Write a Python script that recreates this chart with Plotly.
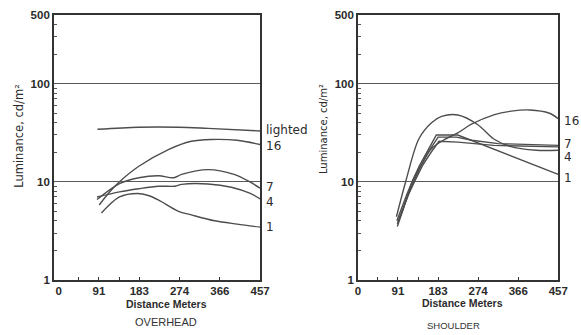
import math
import plotly.graph_objects as go

# ---- OVERHEAD lighting: luminance (cd/m^2) vs distance (m) ----
oh_lighted_x = [88, 181, 272, 339, 457]
oh_lighted_y = [34.3, 36, 36, 35, 33]
oh_16_x = [92, 116, 138, 182, 249, 301, 346, 405, 457]
oh_16_y = [5.8, 7.9, 10, 14.4, 21.3, 25.9, 27, 26.5, 24]
oh_7_x = [87, 138, 182, 227, 261, 279, 339, 398, 435, 457]
oh_7_y = [6.6, 9.6, 11.0, 11.5, 11.0, 11.9, 13.3, 11.9, 9.9, 8.6]
oh_4_x = [87, 138, 182, 227, 264, 279, 339, 392, 435, 457]
oh_4_y = [7.0, 7.9, 8.5, 9.0, 9.0, 9.4, 9.5, 8.8, 7.6, 6.7]
oh_1_x = [97, 138, 179, 205, 227, 272, 301, 354, 405, 457]
oh_1_y = [4.8, 7.0, 7.6, 7.2, 6.5, 5.0, 4.6, 4.0, 3.7, 3.45]

# ---- SHOULDER lighting ----
sh_16_x = [90, 105, 124, 145, 168, 198, 228, 258, 310, 350, 392, 437, 457]
sh_16_y = [3.5, 5.5, 10, 15, 21.8, 27, 31.5, 38.4, 48.2, 52.5, 54, 50, 44]
sh_7_x = [90, 102, 114, 127, 142, 162, 183, 225, 260, 320, 400, 457]
sh_7_y = [3.7, 5.2, 7.2, 10, 14, 20.5, 28.5, 28.5, 26.5, 24.5, 23.8, 23.5]
sh_4_x = [88, 109, 139, 168, 191, 228, 273, 310, 347, 407, 457]
sh_4_y = [4.4, 10, 27.3, 40, 46.4, 48, 38.4, 27.3, 23, 21, 21]
sh_1_x = [89, 100, 112, 125, 140, 160, 179, 228, 457]
sh_1_y = [4.0, 5.5, 7.5, 10.3, 14.5, 21, 30, 30, 11.9]
sh_lighted_x = [91, 103, 116, 130, 147, 167, 185, 228, 310, 457]
sh_lighted_y = [3.9, 5.4, 7.5, 10.2, 14.5, 20, 25.9, 25.4, 23.5, 22.7]

# axis ticks
x_label_vals = [0, 91.4, 182.9, 274.3, 365.8, 457.2]
x_label_text = ["0", "91", "183", "274", "366", "457"]
x_small_ticks = [45.7, 91.4, 137.2, 182.9, 274.3, 365.8]
y_label_vals = [1, 10, 100, 500]
y_label_text = ["1", "10", "100", "500"]
y_small_ticks = [2, 3, 4, 5, 6, 7, 8, 9, 20, 30, 40, 50, 60, 70, 80, 90, 200, 300, 400]

LINE = "#4d4d4d"
FRAME = "#333333"
TXT = "#2b2b2b"
Y_DOMAIN = [0.1522, 0.9716]
Y_RANGE = [0, math.log10(500)]
LEFT_X = dict(domain=[52 / 581, 263 / 581], range=[-11, 457.2])
RIGHT_X = dict(domain=[363 / 581, 568 / 581], range=[0, 457.2])

fig = go.Figure()


def add_curve(x, y, xa, ya, shape="spline"):
    fig.add_trace(go.Scatter(
        x=x, y=y, xaxis=xa, yaxis=ya, mode="lines",
        line=dict(color=LINE, width=1.4, shape=shape, smoothing=0.9),
        hoverinfo="skip", showlegend=False,
    ))


for xs, ys in [(oh_lighted_x, oh_lighted_y), (oh_16_x, oh_16_y), (oh_7_x, oh_7_y),
               (oh_4_x, oh_4_y), (oh_1_x, oh_1_y)]:
    add_curve(xs, ys, "x", "y")

add_curve(sh_16_x, sh_16_y, "x2", "y2")
add_curve(sh_4_x, sh_4_y, "x2", "y2")
add_curve(sh_7_x, sh_7_y, "x2", "y2", shape="linear")
add_curve(sh_1_x, sh_1_y, "x2", "y2", shape="linear")
add_curve(sh_lighted_x, sh_lighted_y, "x2", "y2", shape="linear")

# empty traces that carry the small-tick overlay axes
for xa, ya in [("x3", "y"), ("x", "y3"), ("x4", "y2"), ("x2", "y4")]:
    fig.add_trace(go.Scatter(x=[], y=[], xaxis=xa, yaxis=ya, mode="lines",
                             showlegend=False, hoverinfo="skip"))

tick_font = dict(family="Liberation Sans, Arial, sans-serif", size=11.5, color=TXT, weight="bold")


def xaxis_cfg(base, anchor):
    return dict(
        domain=base["domain"], range=base["range"], anchor=anchor,
        showgrid=False, zeroline=False,
        showline=True, mirror=True, linecolor=FRAME, linewidth=1.5,
        tickmode="array", tickvals=x_label_vals, ticktext=x_label_text,
        ticks="", tickfont=tick_font,
    )


def xminor_cfg(base, over, anchor):
    return dict(
        domain=base["domain"], range=base["range"], overlaying=over, anchor=anchor,
        side="bottom", showgrid=False, zeroline=False, showline=False,
        tickmode="array", tickvals=x_small_ticks, ticks="inside", ticklen=3,
        tickwidth=1, tickcolor=FRAME, showticklabels=False,
    )


def yaxis_cfg(anchor):
    return dict(
        type="log", domain=Y_DOMAIN, range=Y_RANGE, anchor=anchor,
        showline=True, mirror=True, linecolor=FRAME, linewidth=1.5, zeroline=False,
        tickmode="array", tickvals=y_label_vals, ticktext=y_label_text,
        ticks="", tickfont=tick_font,
        showgrid=True, gridcolor="#5a5a5a", gridwidth=1,
    )


def yminor_cfg(over, anchor):
    return dict(
        type="log", domain=Y_DOMAIN, range=Y_RANGE, overlaying=over, anchor=anchor,
        side="left", showgrid=False, zeroline=False, showline=False,
        tickmode="array", tickvals=y_small_ticks, ticks="inside", ticklen=3,
        tickwidth=1, tickcolor="#555555", showticklabels=False,
    )


label_font = dict(family="DejaVu Sans, sans-serif", size=12, color=TXT)
annotations = []


def end_label(text, xref, yref, yval, yshift=0):
    annotations.append(dict(
        x=457.2, y=math.log10(yval), xref=xref, yref=yref, text=text,
        showarrow=False, xanchor="left", yanchor="middle", xshift=4, yshift=yshift,
        font=label_font,
    ))


end_label("lighted", "x", "y", oh_lighted_y[-1], 1)
end_label("16", "x", "y", oh_16_y[-1], -2)
end_label("7", "x", "y", oh_7_y[-1], 1)
end_label("4", "x", "y", oh_4_y[-1], -3)
end_label("1", "x", "y", oh_1_y[-1])

end_label("16", "x2", "y2", sh_16_y[-1], -2)
end_label("7", "x2", "y2", sh_7_y[-1], 1)
end_label("4", "x2", "y2", sh_4_y[-1], -7)
end_label("1", "x2", "y2", sh_1_y[-1], -4)

sub_font = dict(family="Liberation Sans, Arial, sans-serif", size=10.5, color=TXT, weight="bold")
cap_font = dict(family="Liberation Sans, Arial, sans-serif", size=11, color="#333333")
ytitle_font = dict(family="DejaVu Sans, sans-serif", size=11.5, color=TXT)


def paper_text(text, x, y, font, angle=0):
    annotations.append(dict(
        x=x / 581, y=1 - y / 335, xref="paper", yref="paper", text=text,
        showarrow=False, xanchor="center", yanchor="middle", textangle=angle, font=font,
    ))


paper_text("Distance Meters", 167, 309.5, sub_font)
paper_text("Distance Meters", 470, 308, sub_font)
paper_text("OVERHEAD", 167, 327.5, cap_font)
paper_text("SHOULDER", 461, 331, dict(cap_font, size=9.5))
paper_text("Luminance, cd/m²", 17, 135, ytitle_font, -90)
paper_text("Luminance, cd/m²", 328, 128, dict(ytitle_font, size=10), -90)

fig.update_layout(
    width=581, height=335,
    margin=dict(l=0, r=0, t=0, b=0),
    paper_bgcolor="white", plot_bgcolor="white",
    xaxis=xaxis_cfg(LEFT_X, "y"),
    yaxis=yaxis_cfg("x"),
    xaxis2=xaxis_cfg(RIGHT_X, "y2"),
    yaxis2=yaxis_cfg("x2"),
    xaxis3=xminor_cfg(LEFT_X, "x", "y"),
    yaxis3=yminor_cfg("y", "x"),
    xaxis4=xminor_cfg(RIGHT_X, "x2", "y2"),
    yaxis4=yminor_cfg("y2", "x2"),
    annotations=annotations,
    showlegend=False,
)

fig.write_html("out.html")
